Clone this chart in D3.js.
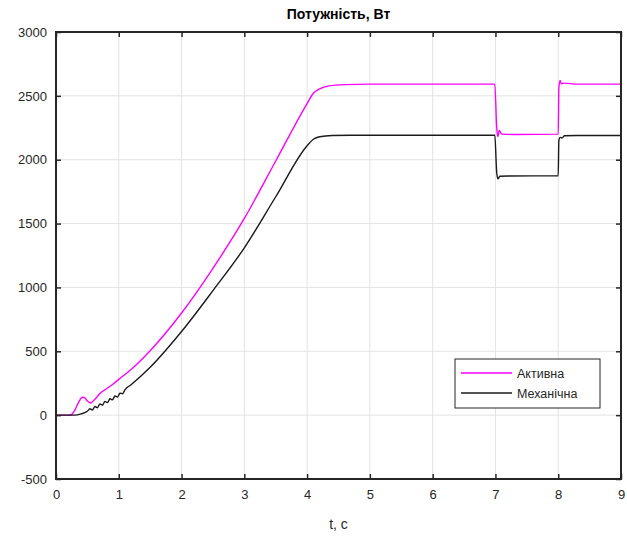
<!DOCTYPE html>
<html>
<head>
<meta charset="utf-8">
<script src="https://cdn.jsdelivr.net/npm/d3@7"></script>
<style>
  body { margin: 0; background: #fff; }
  text { font-family: "Liberation Sans", Arial, sans-serif; }
</style>
</head>
<body>
<div id="chart"></div>
<script>
// Data
var activeT = [0, 0.2, 0.25, 0.3, 0.36, 0.42, 0.46, 0.5, 0.55, 0.6, 0.65, 0.7, 0.8, 0.9, 1.0, 1.2, 1.5, 2.0, 2.5, 3.0, 3.5, 4.0, 4.1, 4.2, 4.35, 4.6, 5.0, 6.0, 6.99, 7.02, 7.04, 7.06, 7.1, 7.3, 8.0, 8.01, 8.03, 8.05, 8.1, 8.3, 9.0];
var activeP = [0, 0, 5, 40, 100, 140, 135, 110, 95, 115, 140, 170, 205, 240, 280, 360, 505, 800, 1150, 1540, 1990, 2440, 2520, 2555, 2578, 2588, 2592, 2592, 2592, 2250, 2180, 2230, 2200, 2198, 2200, 2560, 2620, 2595, 2600, 2592, 2592];

var mechT = [0, 0.3, 0.4, 0.5, 0.54, 0.58, 0.62, 0.66, 0.7, 0.74, 0.78, 0.82, 0.86, 0.9, 0.94, 0.98, 1.02, 1.06, 1.1, 1.2, 1.5, 2.0, 2.5, 3.0, 3.5, 4.0, 4.1, 4.2, 4.4, 4.7, 5.0, 6.0, 6.99, 7.02, 7.04, 7.07, 7.2, 8.0, 8.01, 8.03, 8.06, 8.1, 8.3, 9.0];
var mechP = [0, 0, 10, 30, 50, 40, 68, 58, 88, 78, 108, 98, 128, 120, 150, 142, 172, 168, 200, 240, 375, 655, 975, 1310, 1710, 2110, 2160, 2180, 2190, 2192, 2192, 2192, 2192, 1900, 1850, 1870, 1872, 1875, 2150, 2175, 2170, 2188, 2190, 2190];

var xTicks = [0, 1, 2, 3, 4, 5, 6, 7, 8, 9];
var yTicks = [-500, 0, 500, 1000, 1500, 2000, 2500, 3000];
var seriesNames = ["Активна", "Механічна"];
var seriesColors = ["#ff00ff", "#1a1a1a"];

var svgWidth = 627;
var svgHeight = 536;
var margin = { top: 32, right: 6, bottom: 57, left: 56 };
var width = svgWidth - margin.left - margin.right;
var height = svgHeight - margin.top - margin.bottom;

var svg = d3.select("#chart").append("svg")
    .attr("width", svgWidth)
    .attr("height", svgHeight);

var g = svg.append("g")
    .attr("transform", `translate(${margin.left}, ${margin.top})`);

var x = d3.scaleLinear().domain([0, 9]).range([0, width]);
var y = d3.scaleLinear().domain([-500, 3000]).range([height, 0]);

// grid
g.append("g").selectAll("line").data(xTicks.slice(1, -1)).enter().append("line")
    .attr("x1", d => x(d)).attr("x2", d => x(d))
    .attr("y1", 0).attr("y2", height)
    .attr("stroke", "#e3e3e3").attr("stroke-width", 1);
g.append("g").selectAll("line").data(yTicks.slice(1, -1)).enter().append("line")
    .attr("y1", d => y(d)).attr("y2", d => y(d))
    .attr("x1", 0).attr("x2", width)
    .attr("stroke", "#e3e3e3").attr("stroke-width", 1);

// lines
g.append("clipPath").attr("id", "clip")
    .append("rect").attr("width", width).attr("height", height);

function drawLine(ts, ps, color) {
    var pts = ts.map((t, i) => [t, ps[i]]);
    var line = d3.line()
        .x(d => x(d[0]))
        .y(d => y(d[1]))
        .curve(d3.curveMonotoneX);
    g.append("path")
        .datum(pts)
        .attr("clip-path", "url(#clip)")
        .attr("fill", "none")
        .attr("stroke", color)
        .attr("stroke-width", 1.4)
        .attr("d", line);
}
drawLine(activeT, activeP, seriesColors[0]);
drawLine(mechT, mechP, seriesColors[1]);

// axes (matlab style box, inward ticks)
var axisColor = "#262626";
var fmt = d => String(d);
var xAxis = d3.axisBottom(x).tickValues(xTicks).tickSizeInner(-5).tickSizeOuter(0).tickPadding(11).tickFormat(fmt);
var yAxis = d3.axisLeft(y).tickValues(yTicks).tickSizeInner(-5).tickSizeOuter(0).tickPadding(9).tickFormat(fmt);

g.append("g").attr("transform", `translate(0, ${height})`).call(xAxis);
g.append("g").call(yAxis);
g.append("g").call(d3.axisTop(x).tickValues(xTicks).tickSizeInner(-5).tickSizeOuter(0).tickFormat(""));
g.append("g").attr("transform", `translate(${width}, 0)`)
    .call(d3.axisRight(y).tickValues(yTicks).tickSizeInner(-5).tickSizeOuter(0).tickFormat(""));

g.selectAll(".domain").remove();
g.selectAll(".tick line").attr("stroke", axisColor).attr("stroke-width", 1.5);
g.selectAll(".tick text").attr("fill", axisColor).style("font-size", "13px");

g.append("rect")
    .attr("width", width).attr("height", height)
    .attr("fill", "none")
    .attr("stroke", axisColor)
    .attr("stroke-width", 2);

// title
svg.append("text")
    .attr("x", margin.left + width / 2)
    .attr("y", 19)
    .attr("text-anchor", "middle")
    .style("font-size", "14px")
    .style("font-weight", "bold")
    .attr("fill", "#000")
    .text("Потужність, Вт");

// x label
svg.append("text")
    .attr("x", margin.left + width / 2)
    .attr("y", 529)
    .attr("text-anchor", "middle")
    .style("font-size", "14px")
    .attr("fill", axisColor)
    .text("t, с");

// legend
var legend = svg.append("g").attr("transform", "translate(455, 359)");
legend.append("rect")
    .attr("width", 145).attr("height", 49)
    .attr("fill", "#fff")
    .attr("stroke", axisColor)
    .attr("stroke-width", 1);
seriesNames.forEach(function(name, i) {
    legend.append("line")
        .attr("x1", 6).attr("x2", 57)
        .attr("y1", 14 + i * 20).attr("y2", 14 + i * 20)
        .attr("stroke", seriesColors[i])
        .attr("stroke-width", 1.4);
    legend.append("text")
        .attr("x", 62).attr("y", 18.5 + i * 20)
        .style("font-size", "12.5px")
        .attr("fill", axisColor)
        .text(name);
});
</script>
</body>
</html>
